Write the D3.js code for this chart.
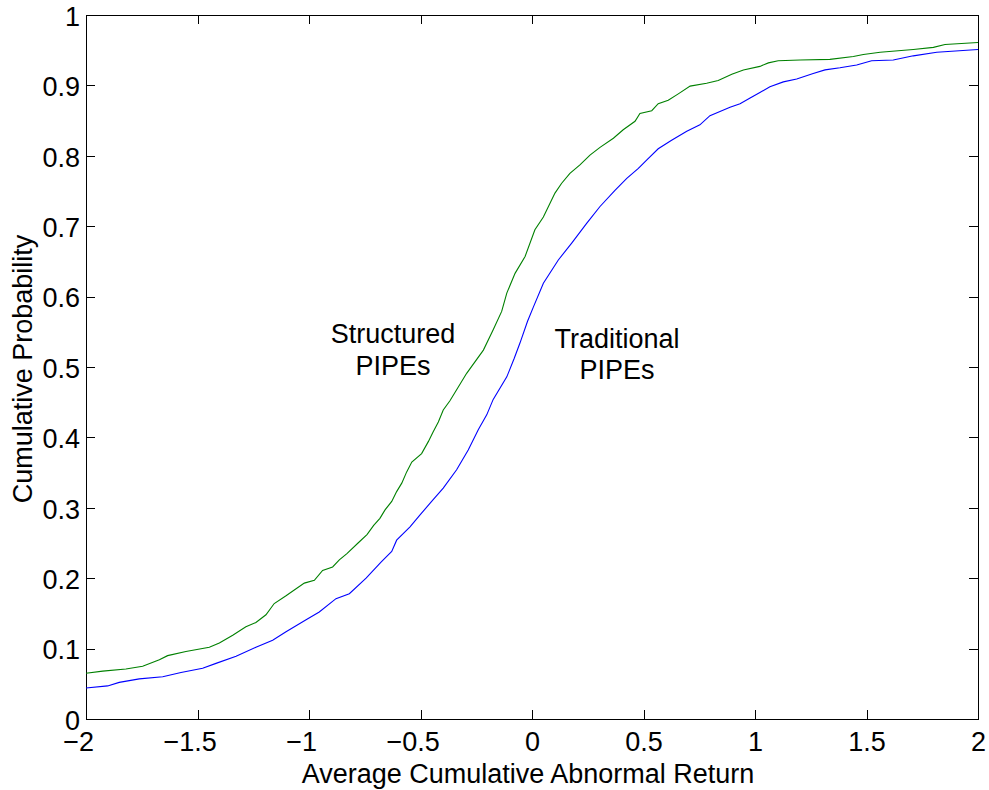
<!DOCTYPE html>
<html>
<head>
<meta charset="utf-8">
<script src="https://cdn.jsdelivr.net/npm/d3@7"></script>
<style>
  body { margin: 0; background: #fff; }
  svg text { font-family: "Liberation Sans", Arial, sans-serif; fill: #000; }
</style>
</head>
<body>
<div class="chart"></div>
<script>
// x tick values and labels
var xTicks = [-2, -1.5, -1, -0.5, 0, 0.5, 1, 1.5, 2];
var xTickLabels = ["\u22122", "\u22121.5", "\u22121", "\u22120.5", "0", "0.5", "1", "1.5", "2"];
var yTicks = [0, 0.1, 0.2, 0.3, 0.4, 0.5, 0.6, 0.7, 0.8, 0.9, 1];
var yTickLabels = ["0", "0.1", "0.2", "0.3", "0.4", "0.5", "0.6", "0.7", "0.8", "0.9", "1"];

// Structured PIPEs (green) - x values and cumulative probability
var structuredX = [-2.000, -1.925, -1.821, -1.746, -1.671, -1.634, -1.552, -1.447, -1.402, -1.342,
  -1.283, -1.238, -1.193, -1.156, -1.103, -1.021, -0.976, -0.939, -0.894, -0.864,
  -0.830, -0.780, -0.740, -0.710, -0.682, -0.659, -0.629, -0.607, -0.584, -0.562,
  -0.539, -0.495, -0.465, -0.443, -0.420, -0.398, -0.368, -0.293, -0.218, -0.174,
  -0.136, -0.113, -0.076, -0.031, 0.013, 0.051, 0.103, 0.133, 0.170, 0.215,
  0.260, 0.305, 0.365, 0.409, 0.462, 0.484, 0.537, 0.566, 0.611, 0.656,
  0.709, 0.783, 0.835, 0.896, 0.948, 1.022, 1.060, 1.104, 1.202, 1.336,
  1.441, 1.486, 1.561, 1.710, 1.800, 1.852, 2.000];
var structuredP = [0.065, 0.068, 0.071, 0.075, 0.084, 0.090, 0.096, 0.102, 0.108, 0.119,
  0.131, 0.137, 0.148, 0.164, 0.175, 0.193, 0.197, 0.211, 0.216, 0.226,
  0.235, 0.250, 0.262, 0.275, 0.285, 0.297, 0.309, 0.323, 0.335, 0.351,
  0.365, 0.377, 0.394, 0.408, 0.422, 0.439, 0.452, 0.491, 0.524, 0.553,
  0.579, 0.605, 0.633, 0.657, 0.695, 0.713, 0.747, 0.761, 0.775, 0.787,
  0.801, 0.812, 0.825, 0.837, 0.849, 0.860, 0.864, 0.874, 0.879, 0.888,
  0.899, 0.903, 0.907, 0.916, 0.922, 0.927, 0.932, 0.935, 0.936, 0.937,
  0.941, 0.944, 0.947, 0.951, 0.954, 0.958, 0.961];

// Traditional PIPEs (blue)
var traditionalX = [-2.000, -1.903, -1.851, -1.761, -1.656, -1.574, -1.477, -1.417, -1.327, -1.238,
  -1.163, -1.103, -1.013, -0.954, -0.879, -0.819, -0.744, -0.677, -0.629, -0.607,
  -0.547, -0.502, -0.450, -0.398, -0.338, -0.286, -0.241, -0.203, -0.174, -0.113,
  -0.080, -0.054, -0.020, 0.006, 0.051, 0.118, 0.178, 0.245, 0.305, 0.372, 0.425,
  0.477, 0.514, 0.566, 0.626, 0.694, 0.753, 0.798, 0.843, 0.888, 0.933,
  0.978, 1.022, 1.067, 1.127, 1.187, 1.261, 1.314, 1.381, 1.456, 1.523,
  1.620, 1.710, 1.815, 2.000];
var traditionalP = [0.044, 0.047, 0.052, 0.057, 0.060, 0.066, 0.072, 0.079, 0.089, 0.102,
  0.112, 0.124, 0.141, 0.152, 0.171, 0.178, 0.200, 0.223, 0.238, 0.254,
  0.273, 0.290, 0.309, 0.328, 0.354, 0.382, 0.411, 0.432, 0.454, 0.486,
  0.512, 0.534, 0.565, 0.585, 0.619, 0.652, 0.676, 0.704, 0.728, 0.751, 0.768,
  0.782, 0.794, 0.810, 0.822, 0.835, 0.844, 0.857, 0.863, 0.869, 0.874,
  0.882, 0.890, 0.898, 0.905, 0.909, 0.917, 0.922, 0.925, 0.929, 0.935,
  0.936, 0.942, 0.947, 0.951];

var margin = {top: 15, right: 11, bottom: 71, left: 86},
    width = 989 - margin.left - margin.right,
    height = 790 - margin.top - margin.bottom;

var fontSize = 27;

var svg = d3.select(".chart")
  .append("svg")
  .attr("width", 989)
  .attr("height", 790)
  .append("g")
  .attr("transform", "translate(" + margin.left + "," + margin.top + ")");

var x = d3.scaleLinear().domain([-2, 2]).range([0, width]);
var y = d3.scaleLinear().domain([0, 1]).range([height, 0]);

function styleAxis(g) {
  g.select(".domain").remove();
  g.selectAll(".tick line").attr("stroke", "#000").attr("shape-rendering", "crispEdges");
  g.selectAll(".tick text").style("font-size", fontSize + "px").attr("fill", "#000");
}

// bottom axis with labels
svg.append("g")
  .attr("transform", "translate(0," + height + ")")
  .call(d3.axisBottom(x).tickValues(xTicks)
    .tickFormat(function(d, i) { return xTickLabels[i]; })
    .tickSizeInner(-9).tickSizeOuter(0).tickPadding(13))
  .call(styleAxis)
  .selectAll(".tick text")
  .attr("dx", function(d) { return d < 0 ? "-0.29em" : 0; });

// top axis, ticks only
svg.append("g")
  .call(d3.axisTop(x).tickValues(xTicks).tickFormat("")
    .tickSizeInner(-9).tickSizeOuter(0))
  .call(styleAxis);

// left axis with labels
svg.append("g")
  .call(d3.axisLeft(y).tickValues(yTicks)
    .tickFormat(function(d, i) { return yTickLabels[i]; })
    .tickSizeInner(-9).tickSizeOuter(0).tickPadding(6))
  .call(styleAxis)
  .selectAll(".tick text")
  .attr("dy", "0.38em");

// right axis, ticks only
svg.append("g")
  .attr("transform", "translate(" + width + ",0)")
  .call(d3.axisRight(y).tickValues(yTicks).tickFormat("")
    .tickSizeInner(-9).tickSizeOuter(0))
  .call(styleAxis);

// box
svg.append("rect")
  .attr("x", 0.5)
  .attr("y", 0.5)
  .attr("width", width)
  .attr("height", height)
  .attr("fill", "none")
  .attr("stroke", "#000")
  .attr("stroke-width", 1);

var line = d3.line()
  .x(function(d) { return x(d[0]); })
  .y(function(d) { return y(d[1]); });

var traditional = traditionalX.map(function(v, i) { return [v, traditionalP[i]]; });
var structured = structuredX.map(function(v, i) { return [v, structuredP[i]]; });

svg.append("path")
  .datum(traditional)
  .attr("fill", "none")
  .attr("stroke", "#0000ff")
  .attr("stroke-width", 1.1)
  .attr("d", line);

svg.append("path")
  .datum(structured)
  .attr("fill", "none")
  .attr("stroke", "#008000")
  .attr("stroke-width", 1.1)
  .attr("d", line);

// annotations
var notes = [
  {lines: ["Structured", "PIPEs"], x: -0.623, y: 0.534},
  {lines: ["Traditional", "PIPEs"], x: 0.381, y: 0.527}
];

notes.forEach(function(n) {
  var t = svg.append("text")
    .attr("text-anchor", "middle")
    .style("font-size", fontSize + "px")
    .attr("x", x(n.x))
    .attr("y", y(n.y));
  n.lines.forEach(function(s, i) {
    t.append("tspan")
      .attr("x", x(n.x))
      .attr("dy", i == 0 ? 0 : 31.5)
      .text(s);
  });
});

// axis titles
svg.append("text")
  .attr("text-anchor", "middle")
  .attr("x", width / 2 - 4)
  .attr("y", height + 64)
  .style("font-size", fontSize + "px")
  .text("Average Cumulative Abnormal Return");

svg.append("text")
  .attr("text-anchor", "middle")
  .attr("transform", "rotate(-90)")
  .attr("x", -height / 2 - 2)
  .attr("y", -54)
  .style("font-size", fontSize + "px")
  .text("Cumulative Probability");
</script>
</body>
</html>
